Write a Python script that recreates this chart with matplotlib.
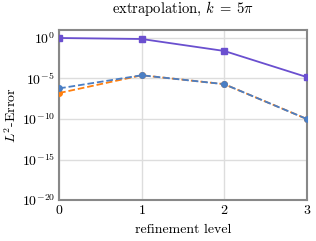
import numpy as np
import matplotlib
matplotlib.use("Agg")
import matplotlib.pyplot as plt
from matplotlib.ticker import FixedLocator, NullLocator

plt.rcParams['font.family'] = 'serif'
plt.rcParams['font.serif'] = ['cmr10']
plt.rcParams['mathtext.fontset'] = 'cm'
plt.rcParams['axes.formatter.use_mathtext'] = True

levels = [0, 1, 2, 3]
err_solid = [1.0, 0.75, 2.5e-2, 1.5e-5]
err_blue = [6e-7, 2.5e-5, 2.0e-6, 1.0e-10]
err_orange = [1.6e-7, 2.5e-5, 2.0e-6, 1.0e-10]

fig = plt.figure(figsize=(3.16, 2.41), dpi=100)
ax = fig.add_axes([0.187, 0.170, 0.784, 0.706])

ax.plot(levels, err_orange, '--', color='#ff7f0e', marker='o', ms=4, lw=1.3, zorder=3)
ax.plot(levels, err_blue, '--', color='#4a7ec4', marker='o', ms=4, lw=1.3, zorder=4)
ax.plot(levels, err_solid, '-', color='#6a4fcf', marker='s', ms=5, lw=1.3, zorder=5)

ax.set_yscale('log')
ax.set_ylim(1e-20, 10)
ax.set_xlim(0, 3)
ax.yaxis.set_major_locator(FixedLocator([1e-20, 1e-15, 1e-10, 1e-5, 1e0]))
ax.yaxis.set_minor_locator(NullLocator())
ax.set_xticks(levels)
ax.grid(True, color='#dddddd', lw=1)
ax.set_axisbelow(True)
for s in ax.spines.values():
    s.set_color('#888888')
    s.set_linewidth(1.5)
ax.tick_params(length=0, labelsize=10, pad=3)

ax.set_title(r'extrapolation, $k\;=\;5\pi$', fontsize=10.5, pad=12)
ax.set_xlabel('refinement level', fontsize=10, labelpad=5)
ax.set_ylabel(r'$L^2$-Error', fontsize=10, labelpad=2)

fig.savefig('out.png', dpi=100)
